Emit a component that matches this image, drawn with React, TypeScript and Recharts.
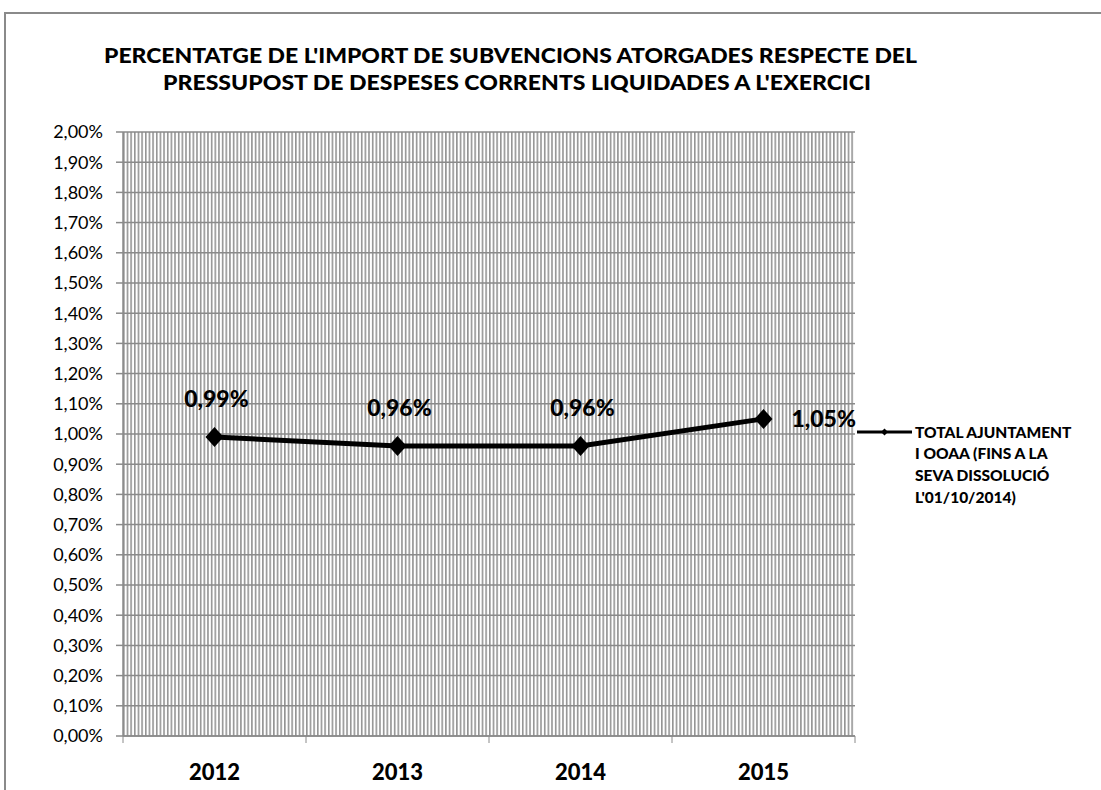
import React from 'react';
import { LineChart, Line, XAxis, YAxis, CartesianGrid, Legend } from 'recharts';

const years = ['2012', '2013', '2014', '2015'];
const percentValues = [0.99, 0.96, 0.96, 1.05];
const yTicks = [0, 0.1, 0.2, 0.3, 0.4, 0.5, 0.6, 0.7, 0.8, 0.9, 1.0, 1.1, 1.2, 1.3, 1.4, 1.5, 1.6, 1.7, 1.8, 1.9, 2.0];
const titleLines = [
  "PERCENTATGE DE L'IMPORT DE SUBVENCIONS ATORGADES RESPECTE DEL",
  "PRESSUPOST DE DESPESES CORRENTS LIQUIDADES A L'EXERCICI",
];
const legendLines = ['TOTAL AJUNTAMENT', 'I OOAA (FINS A LA', 'SEVA DISSOLUCIÓ', "L'01/10/2014)"];

const data = years.map((year, i) => ({ year, value: percentValues[i] }));

const W = 1101;
const H = 790;
const M_TOP = 132;
const M_RIGHT = 246;
const Y_W = 123;
const X_H = 54;
const PLOT_W = W - Y_W - M_RIGHT;
const FONT = 'Lato, "Open Sans", sans-serif';
const GRID = '#8a8a8a';

const fmt = (v: number) => v.toFixed(2).replace('.', ',') + '%';

const XTick = (props: any) => {
  const { x, y, payload, index } = props;
  const band = PLOT_W / years.length;
  return (
    <g>
      <line x1={x - band / 2} x2={x - band / 2} y1={y} y2={y + 7} stroke={GRID} strokeWidth={1} />
      {index === years.length - 1 && (
        <line x1={x + band / 2} x2={x + band / 2} y1={y} y2={y + 7} stroke={GRID} strokeWidth={1} />
      )}
      <text x={x} y={y + 44} textAnchor="middle" fontFamily={FONT} fontWeight={900} fontSize={22} fill="#000">
        {payload.value}
      </text>
    </g>
  );
};

const Diamond = (props: any) => {
  const { cx, cy } = props;
  if (cx == null || cy == null) return null;
  return <polygon points={`${cx},${cy - 10} ${cx + 9},${cy} ${cx},${cy + 10} ${cx - 9},${cy}`} fill="#000" />;
};

const ValueLabel = (props: any) => {
  const { x, y, value, index } = props;
  const last = index === percentValues.length - 1;
  return (
    <text
      x={last ? x + 28 : x + 2}
      y={last ? y + 8 : y - 30}
      textAnchor={last ? 'start' : 'middle'}
      fontFamily={FONT}
      fontWeight={900}
      fontSize={23}
      fill="#000"
    >
      {fmt(value)}
    </text>
  );
};

const LegendContent = () => (
  <svg width={250} height={100} style={{ overflow: 'visible' }}>
    <line x1={7} x2={62} y1={17} y2={17} stroke="#000" strokeWidth={3} />
    <polygon points="34.5,13.5 38,17 34.5,20.5 31,17" fill="#000" />
    {legendLines.map((t, i) => (
      <text key={i} x={65} y={22.5 + i * 21.7} fontFamily={FONT} fontWeight={900} fontSize={15.5} fill="#000">
        {t}
      </text>
    ))}
  </svg>
);

export default function App() {
  return (
    <div style={{ position: 'absolute', left: 0, top: 0, width: W, height: H, background: '#fff' }}>
      <LineChart
        width={W}
        height={H}
        data={data}
        margin={{ top: M_TOP, right: M_RIGHT, bottom: 0, left: 0 }}
      >
        <defs>
          <pattern id="vstripes" patternUnits="userSpaceOnUse" x={123} y={0} width={3.66} height={10}>
            <rect x={0} y={0} width={1.6} height={10} fill="#939393" />
          </pattern>
        </defs>
        <CartesianGrid vertical={false} stroke={GRID} strokeWidth={1.5} fill="url(#vstripes)" fillOpacity={1} />
        <XAxis
          dataKey="year"
          scale="band"
          height={X_H}
          tickLine={false}
          tickSize={0}
          tickMargin={0}
          axisLine={{ stroke: GRID, strokeWidth: 1.5 }}
          tick={<XTick />}
          interval={0}
        />
        <YAxis
          width={Y_W}
          domain={[0, 2]}
          ticks={yTicks}
          interval={0}
          tickFormatter={fmt}
          tickSize={7}
          tickMargin={13}
          axisLine={{ stroke: GRID, strokeWidth: 1.5 }}
          tickLine={{ stroke: GRID, strokeWidth: 1.5 }}
          tick={{ fontFamily: FONT, fontSize: 18, fill: '#000' }}
        />
        <Legend
          layout="horizontal"
          verticalAlign="middle"
          align="center"
          content={<LegendContent />}
          wrapperStyle={{ position: 'absolute', left: 850, top: 415, width: 250, height: 100 }}
        />
        <Line
          type="linear"
          dataKey="value"
          name={legendLines.join(' ')}
          stroke="#000"
          strokeWidth={5}
          dot={<Diamond />}
          activeDot={false}
          label={<ValueLabel />}
          isAnimationActive={false}
        />
      </LineChart>
      <svg width={W} height={H} style={{ position: 'absolute', left: 0, top: 0, pointerEvents: 'none' }}>
        <line x1={5} x2={W} y1={13} y2={13} stroke="#8a8a8a" strokeWidth={2} />
        <line x1={5} x2={5} y1={12} y2={H} stroke="#8a8a8a" strokeWidth={2} />
        <text x={510.5} y={63} textAnchor="middle" fontFamily={FONT} fontWeight={900} fontSize={21} fill="#000" textLength={813} lengthAdjust="spacingAndGlyphs">
          {titleLines[0]}
        </text>
        <text x={517} y={90} textAnchor="middle" fontFamily={FONT} fontWeight={900} fontSize={21} fill="#000" textLength={708} lengthAdjust="spacingAndGlyphs">
          {titleLines[1]}
        </text>
      </svg>
    </div>
  );
}
